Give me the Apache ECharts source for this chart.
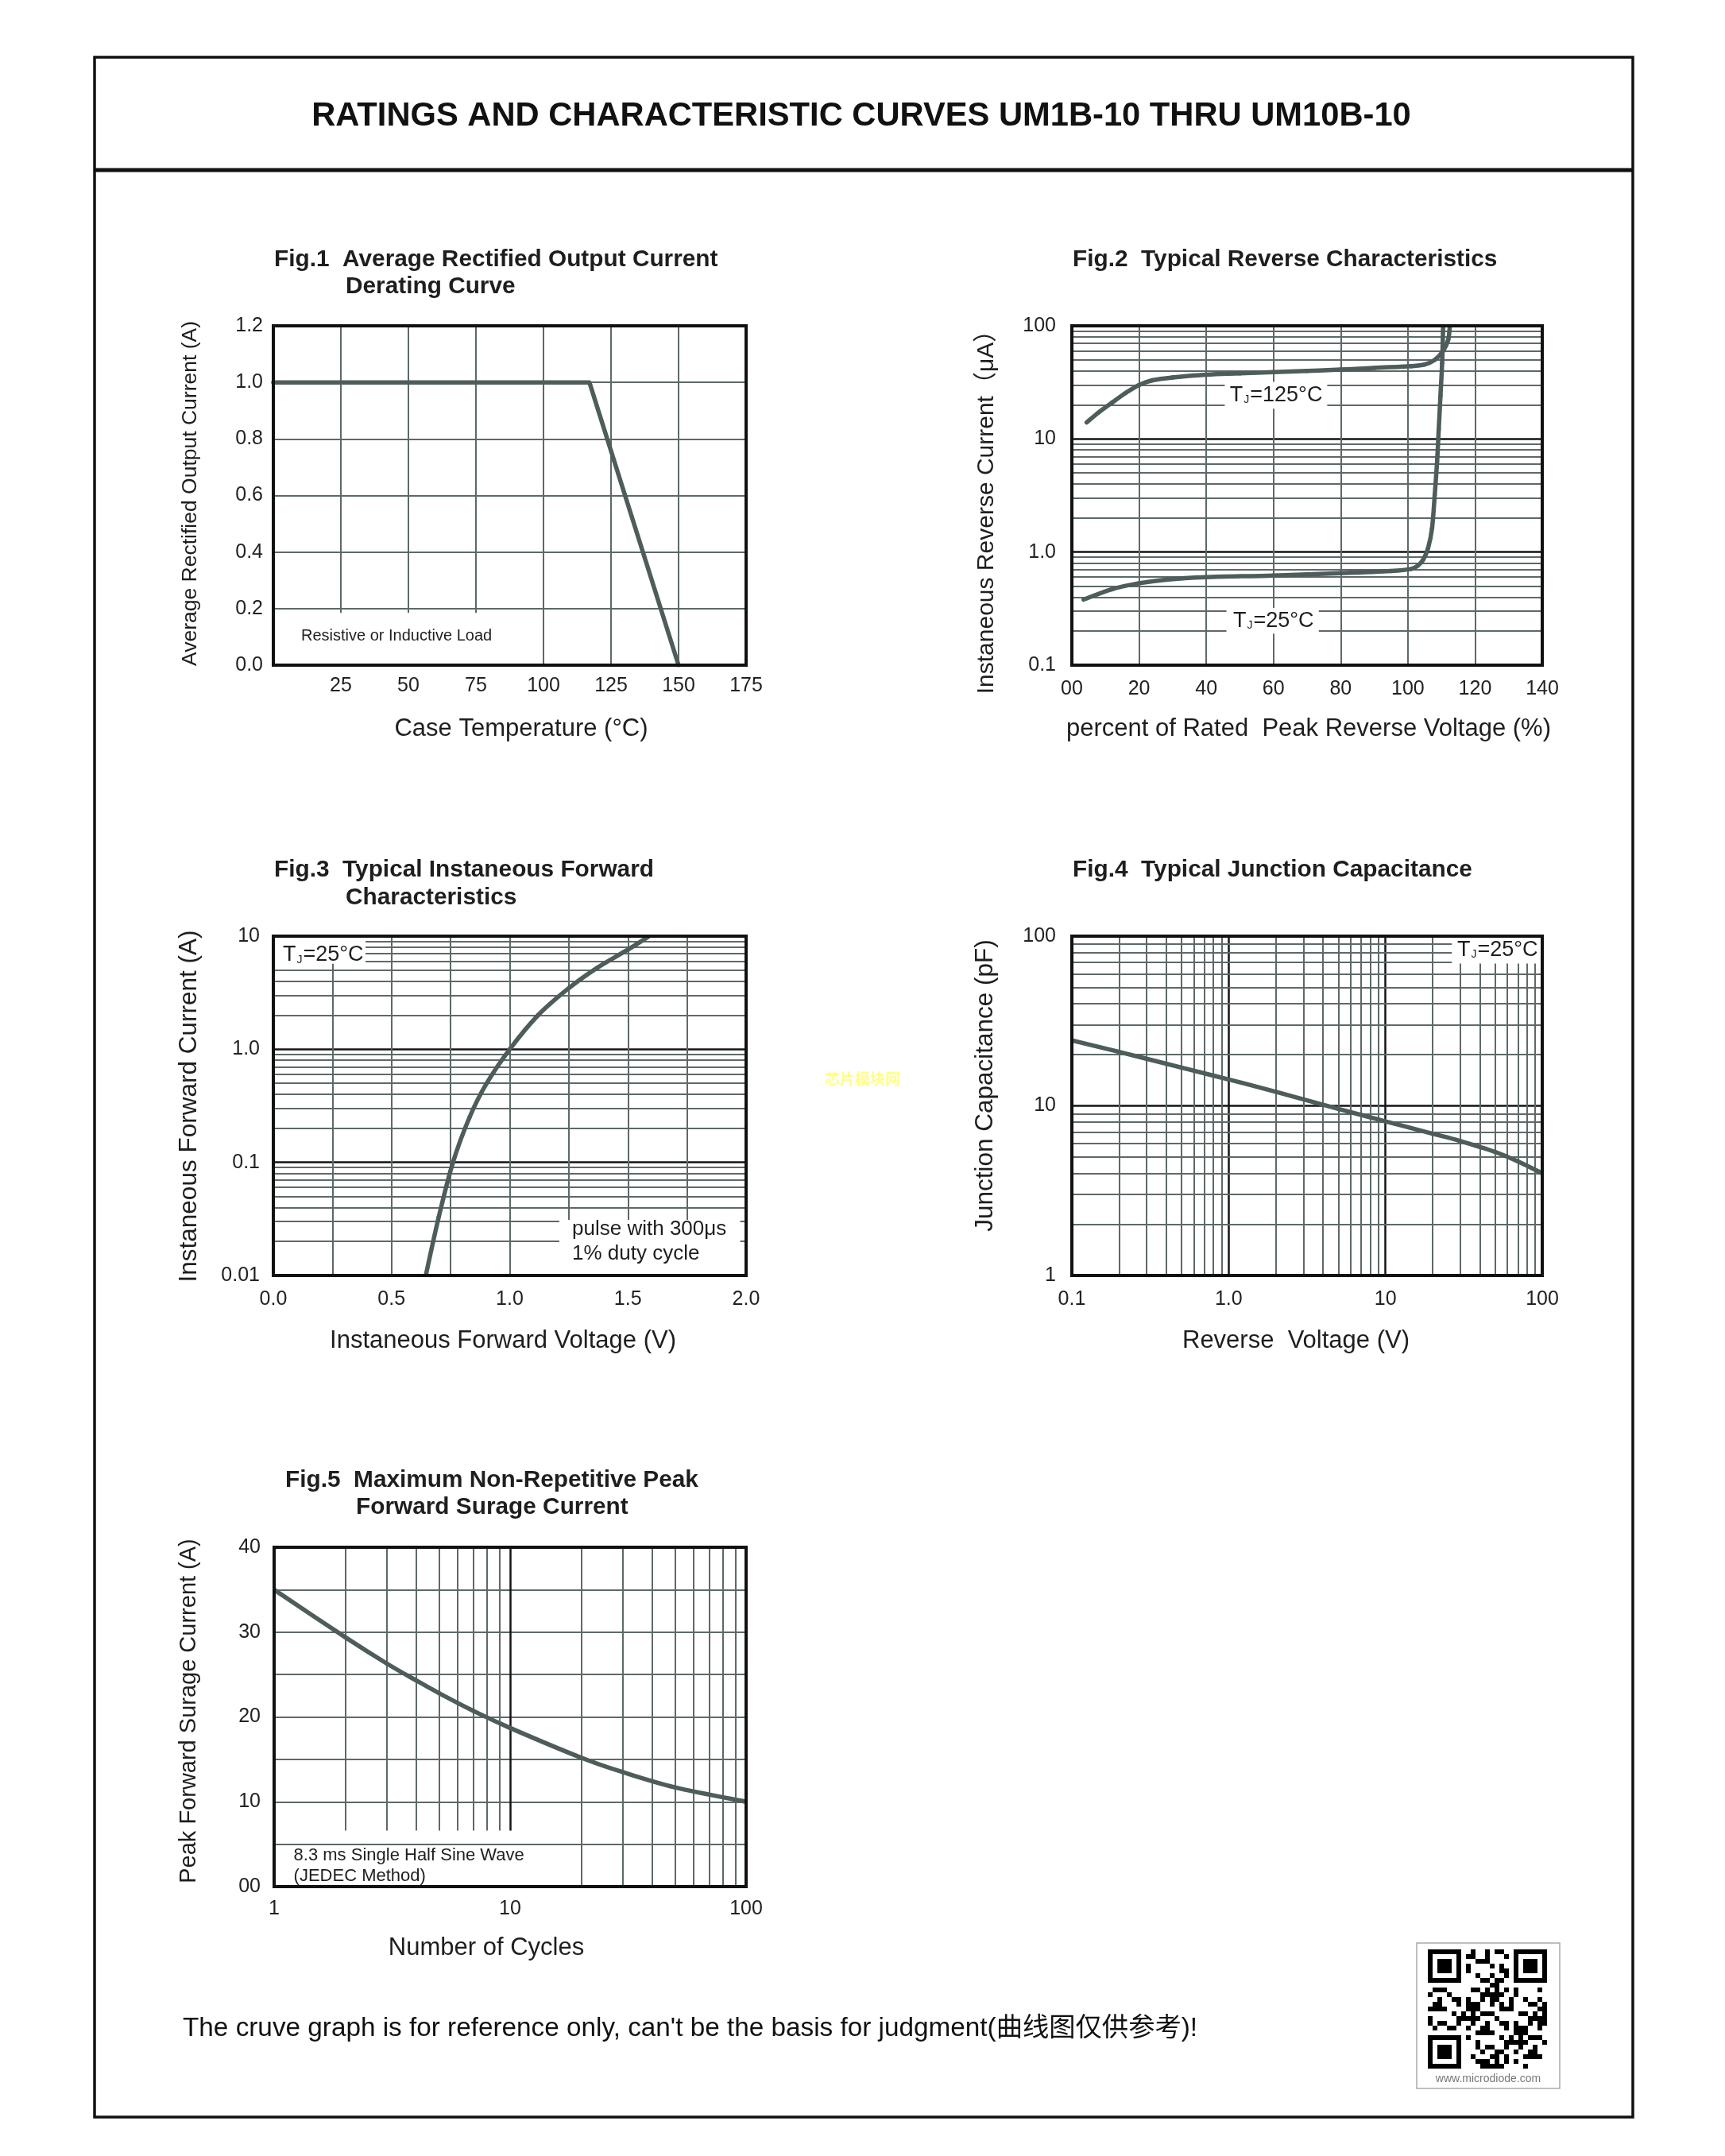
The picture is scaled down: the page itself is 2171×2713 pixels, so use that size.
<!DOCTYPE html>
<html><head><meta charset="utf-8">
<script src="https://cdn.jsdelivr.net/npm/echarts@6/dist/echarts.min.js"></script>
<style>html,body{margin:0;padding:0;background:#fff}#c{width:2171px;height:2713px}</style>
</head><body><div id="c"></div>
<script>
// ---------------- data ----------------
const fig1Temp = [0, 117, 150];
const fig1Current = [1.0, 1.0, 0.0];

const fig2Volt125 = [4.4, 8, 12, 16, 20, 24, 30, 40, 50, 60, 70, 80, 90, 101, 105, 108, 110.5, 112, 112.5];
const fig2Cur125  = [14, 17.2, 21, 25.5, 30, 33, 35, 37, 38, 39, 40, 41, 42.5, 44, 45.5, 50, 60, 75, 100];
const fig2Volt25  = [3.5, 12, 20, 28, 40, 60, 80, 95, 101, 103, 104.5, 106, 107.2, 108, 108.7, 109.2, 109.7, 110.2, 110.5];
const fig2Cur25   = [0.38, 0.47, 0.53, 0.57, 0.60, 0.62, 0.65, 0.68, 0.71, 0.76, 0.85, 1.08, 1.62, 3.2, 6.3, 12.3, 24, 47, 100];

const fig3Volt = [0.645, 0.70, 0.76, 0.83, 0.90, 1.0, 1.12, 1.25, 1.37, 1.5, 1.59];
const fig3Cur  = [0.01, 0.033, 0.1, 0.25, 0.49, 1.0, 2.0, 3.47, 5.25, 7.6, 10];

const fig4Volt = [0.1, 0.2, 0.5, 1, 2, 5, 10, 20, 30, 50, 70, 100];
const fig4Cap  = [24.3, 20.8, 16.8, 14.3, 12.1, 9.6, 8.1, 6.85, 6.2, 5.35, 4.7, 4.0];

const fig5Cycles = [1, 2, 3, 4, 5, 7, 10, 20, 30, 50, 100];
const fig5Surge  = [35, 29.4, 26.3, 24.3, 22.8, 20.7, 18.7, 15.2, 13.5, 11.7, 10.0];

// tick label lists
const fig1XLabels = ['', '25', '50', '75', '100', '125', '150', '175'];
const fig1YLabels = ['0.0', '0.2', '0.4', '0.6', '0.8', '1.0', '1.2'];
const fig2XLabels = ['00', '20', '40', '60', '80', '100', '120', '140'];
const fig2YLabels = {'-1': '0.1', '0': '1.0', '1': '10', '2': '100'};
const fig3XLabels = {'0': '0.0', '2': '0.5', '4': '1.0', '6': '1.5', '8': '2.0'};
const fig3YLabels = {'-2': '0.01', '-1': '0.1', '0': '1.0', '1': '10'};
const fig4XLabels = {'-1': '0.1', '0': '1.0', '1': '10', '2': '100'};
const fig4YLabels = {'0': '1', '1': '10', '2': '100'};
const fig5XLabels = {'0': '1', '1': '10', '2': '100'};
const fig5YLabels = {'0': '00', '10': '10', '20': '20', '30': '30', '40': '40'};

// minor grid positions
const decadeMinors = [2, 3, 4, 5, 6, 7, 8, 9];
const fig2MinorY = [0.1, 1, 10].flatMap(d => decadeMinors.map(m => +(m * d).toPrecision(3)));
const fig3MinorY = [0.01, 0.1, 1].flatMap(d => decadeMinors.map(m => +(m * d).toPrecision(3)));
const fig4MinorX = [0.1, 1, 10].flatMap(d => decadeMinors.map(m => +(m * d).toPrecision(3)));
const fig4MinorY = [1, 10].flatMap(d => decadeMinors.map(m => +(m * d).toPrecision(3)));
const fig5MinorXShort = [2, 3, 4, 5, 6, 7, 8, 9];
const fig5MinorXLong = [20, 30, 40, 50, 60, 70, 80, 90];
const fig5ShortBottom = 6.6;

// ---------------- styles ----------------
const FONT = '"Liberation Sans", Arial, "Noto Sans CJK SC", sans-serif';
const CURVE = '#4e5d5b';
const GRIDC = '#5d6968';
const DEC = '#151515';

const grids = [
  {left: 344, top: 410, width: 595, height: 427},
  {left: 1349, top: 410, width: 592, height: 427},
  {left: 344, top: 1178, width: 595, height: 427},
  {left: 1349, top: 1178, width: 592, height: 427},
  {left: 345, top: 1947, width: 594, height: 427}
].map(g => Object.assign({show: true, borderColor: '#111', borderWidth: 4, z: 20, backgroundColor: 'transparent', containLabel: false}, g));

const lab = (fmt, margin) => ({fontFamily: FONT, fontSize: 25, color: '#222', margin: margin || 14, formatter: fmt});
const grey = {show: true, lineStyle: {color: GRIDC, width: 2}};
const black = {show: true, lineStyle: {color: DEC, width: 2.5}};
const noLine = {show: false};
const lg = v => Math.round(Math.log10(v));

const xAxes = [
  {gridIndex: 0, type: 'value', min: 0, max: 175, interval: 25, splitLine: grey, axisLine: noLine, axisTick: noLine,
    axisLabel: lab(v => fig1XLabels[Math.round(v / 25)], 14)},
  {gridIndex: 1, type: 'value', min: 0, max: 140, interval: 20, splitLine: grey, axisLine: noLine, axisTick: noLine,
    axisLabel: lab(v => fig2XLabels[Math.round(v / 20)], 18)},
  {gridIndex: 2, type: 'value', min: 0, max: 2, interval: 0.25, splitLine: grey, axisLine: noLine, axisTick: noLine,
    axisLabel: lab(v => fig3XLabels[String(Math.round(v * 4))] || '', 18)},
  {gridIndex: 3, type: 'log', logBase: 10, min: 0.1, max: 100, splitLine: black, axisLine: noLine, axisTick: noLine,
    axisLabel: lab(v => fig4XLabels[String(lg(v))] || '', 18)},
  {gridIndex: 4, type: 'log', logBase: 10, min: 1, max: 100, splitLine: noLine, axisLine: noLine, axisTick: noLine,
    axisLabel: lab(v => fig5XLabels[String(lg(v))] || '', 16)}
];
const yAxes = [
  {gridIndex: 0, type: 'value', min: 0, max: 1.2, interval: 0.2, splitLine: grey, axisLine: noLine, axisTick: noLine,
    axisLabel: lab(v => fig1YLabels[Math.round(v / 0.2)], 13)},
  {gridIndex: 1, type: 'log', logBase: 10, min: 0.1, max: 100, splitLine: black, axisLine: noLine, axisTick: noLine,
    axisLabel: lab(v => fig2YLabels[String(lg(v))] || '', 20)},
  {gridIndex: 2, type: 'log', logBase: 10, min: 0.01, max: 10, splitLine: black, axisLine: noLine, axisTick: noLine,
    axisLabel: lab(v => fig3YLabels[String(lg(v))] || '', 17)},
  {gridIndex: 3, type: 'log', logBase: 10, min: 1, max: 100, splitLine: black, axisLine: noLine, axisTick: noLine,
    axisLabel: lab(v => fig4YLabels[String(lg(v))] || '', 20)},
  {gridIndex: 4, type: 'value', min: 0, max: 40, interval: 5, splitLine: grey, axisLine: noLine, axisTick: noLine,
    axisLabel: lab(v => fig5YLabels[String(Math.round(v))] || '', 17)}
];

const zip = (a, b) => a.map((v, i) => [v, b[i]]);
const straight = (i, xs, ys) => ({
  type: 'line', xAxisIndex: i, yAxisIndex: i, data: zip(xs, ys), symbol: 'none', showSymbol: false,
  z: 10, silent: true, lineStyle: {color: CURVE, width: 5.5, cap: 'round', join: 'round'}
});
// smooth curve through the data points (Catmull-Rom in pixel space, points placed via the axes)
const curve = (i, xs, ys) => ({
  type: 'custom', xAxisIndex: i, yAxisIndex: i, data: zip(xs, ys), z: 10, silent: true, clip: true,
  encode: {x: 0, y: 1},
  renderItem: (params, api) => {
    if (params.dataIndex !== 0) return null;
    const pts = xs.map((x, k) => api.coord([x, ys[k]]));
    const n = pts.length, segs = [];
    for (let k = 0; k < n - 1; k++) {
      const p0 = pts[Math.max(k - 1, 0)], p1 = pts[k], p2 = pts[k + 1], p3 = pts[Math.min(k + 2, n - 1)];
      segs.push({type: 'bezierCurve', shape: {
        x1: p1[0], y1: p1[1], x2: p2[0], y2: p2[1],
        cpx1: p1[0] + (p2[0] - p0[0]) / 6, cpy1: p1[1] + (p2[1] - p0[1]) / 6,
        cpx2: p2[0] - (p3[0] - p1[0]) / 6, cpy2: p2[1] - (p3[1] - p1[1]) / 6},
        style: {stroke: CURVE, lineWidth: 5.5, fill: null, lineCap: 'round'}});
    }
    return {type: 'group', children: segs};
  }
});
const gridLines = (i, anchor, items, color, width) => ({
  type: 'line', xAxisIndex: i, yAxisIndex: i, data: [anchor], symbol: 'none', showSymbol: false, z: 1, silent: true,
  lineStyle: {opacity: 0, width: 0},
  markLine: {silent: true, symbol: 'none', label: {show: false}, animation: false,
    lineStyle: {color: color, width: width, type: 'solid'}, emphasis: {disabled: true}, data: items}
});

const series = [
  straight(0, fig1Temp, fig1Current),
  gridLines(1, [0, 0.1], fig2MinorY.map(v => ({yAxis: v})), GRIDC, 2),
  curve(1, fig2Volt125, fig2Cur125),
  curve(1, fig2Volt25, fig2Cur25),
  gridLines(2, [0, 0.01], fig3MinorY.map(v => ({yAxis: v})), GRIDC, 2),
  curve(2, fig3Volt, fig3Cur),
  gridLines(3, [0.1, 1], fig4MinorX.map(v => ({xAxis: v})).concat(fig4MinorY.map(v => ({yAxis: v}))), GRIDC, 2),
  curve(3, fig4Volt, fig4Cap),
  gridLines(4, [1, 0], fig5MinorXShort.map(v => [{coord: [v, fig5ShortBottom]}, {coord: [v, 40]}])
    .concat(fig5MinorXLong.map(v => [{coord: [v, 0]}, {coord: [v, 40]}])), GRIDC, 2),
  gridLines(4, [1, 0], [[{coord: [10, fig5ShortBottom]}, {coord: [10, 40]}]], DEC, 2.5),
  curve(4, fig5Cycles, fig5Surge)
];

const chart = echarts.init(document.getElementById('c'), null, {renderer: 'canvas'});
chart.setOption({
  animation: false,
  backgroundColor: '#fff',
  grid: grids, xAxis: xAxes, yAxis: yAxes, series: series
});

// ---------------- graphics (texts, frame, annotation boxes) ----------------
const px = (gi, pt) => chart.convertToPixel({xAxisIndex: gi, yAxisIndex: gi}, pt);
const G = [];
const txt = (x, y, text, font, extra) => G.push(Object.assign({type: 'text', x: x, y: y, z: 6, silent: true,
  style: Object.assign({text: text, font: font, fill: '#1e1e1e', align: 'left', verticalAlign: 'middle'}, extra || {})}));
const box = (gi, a, b) => {
  const p = px(gi, a), q = px(gi, b);
  G.push({type: 'rect', z: 5, silent: true,
    shape: {x: Math.min(p[0], q[0]), y: Math.min(p[1], q[1]), width: Math.abs(q[0] - p[0]), height: Math.abs(q[1] - p[1])},
    style: {fill: '#fff', stroke: null}});
};
const tj = (gi, pt, temp, align) => {
  const p = px(gi, pt);
  G.push({type: 'text', x: p[0], y: p[1], z: 6, silent: true, style: {
    text: '{t|T}{s|J}{t|=' + temp + '°C}', align: align, verticalAlign: 'middle',
    rich: {t: {fontFamily: FONT, fontSize: 27, fill: '#1e1e1e'},
           s: {fontFamily: FONT, fontSize: 14, fill: '#1e1e1e', padding: [12, 1, 0, 1]}}}});
};

// outer frame and header
G.push({type: 'rect', z: 30, silent: true, shape: {x: 119, y: 72, width: 1936, height: 2592},
  style: {fill: 'transparent', stroke: '#111', lineWidth: 3.5}});
G.push({type: 'line', z: 30, silent: true, shape: {x1: 119, y1: 214, x2: 2055, y2: 214},
  style: {stroke: '#111', lineWidth: 5}});
txt(1084, 147, 'RATINGS AND CHARACTERISTIC CURVES UM1B-10 THRU UM10B-10', 'bold 41.7px ' + FONT, {align: 'center', fill: '#111'});

// figure titles
const TF = 'bold 29.8px ' + FONT;
txt(345, 327, 'Fig.1  Average Rectified Output Current', TF);
txt(435, 361, 'Derating Curve', TF);
txt(1350, 327, 'Fig.2  Typical Reverse Characteristics', TF);
txt(345, 1095, 'Fig.3  Typical Instaneous Forward', TF);
txt(435, 1130, 'Characteristics', TF);
txt(1350, 1095, 'Fig.4  Typical Junction Capacitance', TF);
txt(359, 1863, 'Fig.5  Maximum Non-Repetitive Peak', TF);
txt(448, 1897, 'Forward Surage Current', TF);

// axis titles
const AF = s => s + 'px ' + FONT;
txt(656, 917, 'Case Temperature (°C)', AF(31), {align: 'center'});
txt(1647, 917, 'percent of Rated  Peak Reverse Voltage (%)', AF(31), {align: 'center'});
txt(633, 1687, 'Instaneous Forward Voltage (V)', AF(31), {align: 'center'});
txt(1631, 1687, 'Reverse  Voltage (V)', AF(31), {align: 'center'});
txt(612, 2451, 'Number of Cycles', AF(31), {align: 'center'});
const ytitle = (x, y, text, size) => G.push({type: 'text', x: x, y: y, rotation: Math.PI / 2, z: 6, silent: true,
  style: {text: text, font: AF(size), fill: '#1e1e1e', align: 'center', verticalAlign: 'middle'}});
ytitle(240, 621, 'Average Rectified Output Current (A)', 26.5);
ytitle(1242, 637, 'Instaneous Reverse Current（μA）', 30);
ytitle(238, 1392, 'Instaneous Forward Current (A)', 31.5);
ytitle(1240, 1366, 'Junction Capacitance (pF)', 31.5);
ytitle(238, 2153, 'Peak Forward Surage Current (A)', 29);

// annotations (positioned through the axes)
box(0, [0, 0], [97, 0.185]);
let p = px(0, [10.3, 0.104]);
txt(p[0], p[1], 'Resistive or Inductive Load', AF(20));

box(1, [45.5, 18.5], [76, 32]);
tj(1, [60.8, 24.3], '125', 'center');
box(1, [46, 0.19], [73.5, 0.32]);
tj(1, [60, 0.247], '25', 'center');

box(2, [0, 5.7], [0.39, 10]);
tj(2, [0.04, 6.8], '25', 'left');
box(2, [1.21, 0.01], [1.975, 0.031]);
p = px(2, [1.264, 0.0256]);
txt(p[0], p[1], 'pulse with 300μs', AF(26));
p = px(2, [1.264, 0.0155]);
txt(p[0], p[1], '1% duty cycle', AF(26));

box(3, [26.5, 69], [100, 100]);
tj(3, [28.7, 83], '25', 'left');

p = px(4, [1.21, 3.65]);
txt(p[0], p[1], '8.3 ms Single Half Sine Wave', AF(22));
p = px(4, [1.21, 1.25]);
txt(p[0], p[1], '(JEDEC Method)', AF(22));

// watermark
txt(1038, 1358, '芯片模块网', 'bold 19px "Noto Sans CJK SC"', {fill: '#ffff85'});

// footer
txt(230, 2553, 'The cruve graph is for reference only, can\'t be the basis for judgment(曲线图仅供参考)!', AF(33.3), {fill: '#111'});

// QR badge
G.push({type: 'rect', z: 6, silent: true, shape: {x: 1783, y: 2445, width: 180, height: 183},
  style: {fill: '#fff', stroke: '#aaa', lineWidth: 1.5}});
const qx = 1797, qy = 2453, m = 6, N = 25;
const inFinder = (i, j) => (i < 8 && j < 8) || (i < 8 && j > N - 9) || (i > N - 9 && j < 8);
for (let i = 0; i < N; i++) {
  for (let j = 0; j < N; j++) {
    if (inFinder(i, j)) continue;
    if (((i * 13 + j * 7 + (i * j) % 5) % 3 === 0) || ((i + j * 3) % 7 === 0)) {
      G.push({type: 'rect', z: 7, silent: true, shape: {x: qx + j * m, y: qy + i * m, width: m, height: m}, style: {fill: '#000'}});
    }
  }
}
[[0, 0], [0, N - 7], [N - 7, 0]].forEach(([i, j]) => {
  G.push({type: 'rect', z: 7, silent: true, shape: {x: qx + j * m, y: qy + i * m, width: 7 * m, height: 7 * m}, style: {fill: '#000'}});
  G.push({type: 'rect', z: 8, silent: true, shape: {x: qx + (j + 1) * m, y: qy + (i + 1) * m, width: 5 * m, height: 5 * m}, style: {fill: '#fff'}});
  G.push({type: 'rect', z: 9, silent: true, shape: {x: qx + (j + 2) * m, y: qy + (i + 2) * m, width: 3 * m, height: 3 * m}, style: {fill: '#000'}});
});
txt(1873, 2616, 'www.microdiode.com', '14px ' + FONT, {align: 'center', fill: '#777'});

chart.setOption({graphic: {elements: G}});
</script>
</body></html>
